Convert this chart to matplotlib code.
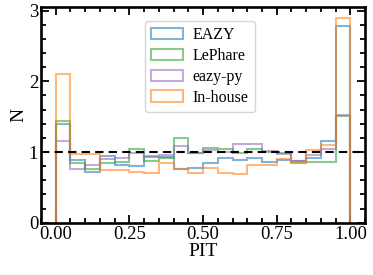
import numpy as np
import matplotlib
matplotlib.use("Agg")
import matplotlib.pyplot as plt
from matplotlib.ticker import MultipleLocator

plt.rcParams["font.family"] = ["Liberation Serif", "DejaVu Serif"]
plt.rcParams["mathtext.fontset"] = "stix"

# PIT histogram, 20 bins on [0, 1]
bin_edges = np.linspace(0, 1, 21)
bin_centers = 0.5 * (bin_edges[:-1] + bin_edges[1:])

eazy = [1.40, 0.89, 0.72, 0.94, 0.81, 0.80, 0.93, 0.93, 0.76, 0.78,
        0.85, 0.91, 0.89, 0.91, 0.86, 0.89, 0.88, 0.92, 1.15, 2.78]
lephare = [1.44, 0.85, 0.76, 0.85, 0.86, 1.04, 0.88, 0.91, 1.20, 0.98,
           1.06, 1.04, 0.99, 1.04, 1.00, 0.98, 0.84, 0.86, 0.86, 1.51]
eazypy = [1.15, 0.76, 0.81, 0.90, 0.91, 0.98, 0.95, 0.96, 1.08, 0.98,
          1.03, 1.00, 1.11, 1.11, 1.01, 0.97, 0.88, 0.96, 1.04, 1.52]
inhouse = [2.11, 0.97, 0.97, 0.75, 0.75, 0.72, 0.70, 0.84, 0.76, 0.70,
           0.77, 0.71, 0.69, 0.82, 0.82, 0.90, 0.86, 1.03, 1.10, 2.90]

series = [("EAZY", eazy, "tab:blue"),
          ("LePhare", lephare, "tab:green"),
          ("eazy-py", eazypy, "tab:purple"),
          ("In-house", inhouse, "tab:orange")]

fig = plt.figure(figsize=(3.73, 2.75), dpi=100)
ax = fig.add_axes([0.11, 0.19, 0.869, 0.783])

for name, vals, col in series:
    ax.hist(bin_centers, bins=bin_edges, weights=vals, histtype="step",
            color=col, lw=1.5, alpha=0.55, label=name)

ax.axhline(1, color="k", ls="--", lw=1.5, dashes=(4, 2.5))

ax.set_xlabel("PIT", fontsize=14, labelpad=0)
ax.set_ylabel("N", fontsize=14, labelpad=1)

ax.xaxis.set_major_locator(MultipleLocator(0.25))
ax.xaxis.set_minor_locator(MultipleLocator(0.05))
ax.yaxis.set_major_locator(MultipleLocator(1))
ax.yaxis.set_minor_locator(MultipleLocator(0.2))
ax.tick_params(which="both", direction="in", top=True, right=True,
               labelsize=13.5, width=1.3)
ax.tick_params(which="major", length=6, pad=2)
ax.tick_params(which="minor", length=3.5)
for s in ax.spines.values():
    s.set_linewidth(1.9)

ax.legend(loc="upper center", fontsize=11.5, handlelength=2.0,
          borderpad=0.4, labelspacing=0.3, handletextpad=0.6,
          bbox_to_anchor=(0.49, 0.975))

fig.savefig("out.png", dpi=100)
